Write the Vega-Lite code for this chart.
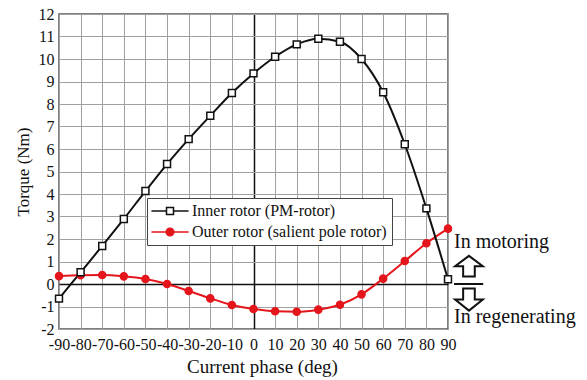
{
  "$schema": "https://vega.github.io/schema/vega-lite/v6.json",
  "width": 389,
  "height": 315,
  "autosize": {"type": "none"},
  "padding": {"left": 59, "top": 14, "right": 139, "bottom": 51},
  "background": "white",
  "config": {
    "font": "Liberation Serif",
    "view": {"stroke": "#555", "strokeWidth": 1.5},
    "axis": {
      "labelFont": "Liberation Serif",
      "labelFontSize": 16,
      "labelColor": "#111",
      "titleFont": "Liberation Serif",
      "titleFontWeight": "normal",
      "titleColor": "#111",
      "tickSize": 0,
      "domain": false,
      "gridOpacity": 1
    },
    "legend": {
      "orient": "none",
      "legendX": 88,
      "legendY": 184,
      "padding": 5,
      "fillColor": "white",
      "strokeColor": "#444",
      "labelFont": "Liberation Serif",
      "labelFontSize": 16,
      "labelColor": "#111",
      "symbolSize": 49,
      "symbolStrokeWidth": 1.5,
      "symbolOpacity": 1,
      "symbolOffset": 10,
      "labelOffset": 14,
      "rowPadding": 5,
      "labelLimit": 400
    }
  },
  "datasets": {
    "curves": [
      {"phase": -90, "torque": -0.65, "series": "Inner rotor (PM-rotor)"},
      {"phase": -80, "torque": 0.52, "series": "Inner rotor (PM-rotor)"},
      {"phase": -70, "torque": 1.69, "series": "Inner rotor (PM-rotor)"},
      {"phase": -60, "torque": 2.89, "series": "Inner rotor (PM-rotor)"},
      {"phase": -50, "torque": 4.13, "series": "Inner rotor (PM-rotor)"},
      {"phase": -40, "torque": 5.33, "series": "Inner rotor (PM-rotor)"},
      {"phase": -30, "torque": 6.44, "series": "Inner rotor (PM-rotor)"},
      {"phase": -20, "torque": 7.48, "series": "Inner rotor (PM-rotor)"},
      {"phase": -10, "torque": 8.49, "series": "Inner rotor (PM-rotor)"},
      {"phase": 0, "torque": 9.36, "series": "Inner rotor (PM-rotor)"},
      {"phase": 10, "torque": 10.1, "series": "Inner rotor (PM-rotor)"},
      {"phase": 20, "torque": 10.65, "series": "Inner rotor (PM-rotor)"},
      {"phase": 30, "torque": 10.9, "series": "Inner rotor (PM-rotor)"},
      {"phase": 40, "torque": 10.77, "series": "Inner rotor (PM-rotor)"},
      {"phase": 50, "torque": 10.0, "series": "Inner rotor (PM-rotor)"},
      {"phase": 60, "torque": 8.52, "series": "Inner rotor (PM-rotor)"},
      {"phase": 70, "torque": 6.21, "series": "Inner rotor (PM-rotor)"},
      {"phase": 80, "torque": 3.36, "series": "Inner rotor (PM-rotor)"},
      {"phase": 90, "torque": 0.21, "series": "Inner rotor (PM-rotor)"},
      {"phase": -90, "torque": 0.35, "series": "Outer rotor (salient pole rotor)"},
      {"phase": -80, "torque": 0.39, "series": "Outer rotor (salient pole rotor)"},
      {"phase": -70, "torque": 0.4, "series": "Outer rotor (salient pole rotor)"},
      {"phase": -60, "torque": 0.34, "series": "Outer rotor (salient pole rotor)"},
      {"phase": -50, "torque": 0.22, "series": "Outer rotor (salient pole rotor)"},
      {"phase": -40, "torque": 0.0, "series": "Outer rotor (salient pole rotor)"},
      {"phase": -30, "torque": -0.31, "series": "Outer rotor (salient pole rotor)"},
      {"phase": -20, "torque": -0.64, "series": "Outer rotor (salient pole rotor)"},
      {"phase": -10, "torque": -0.93, "series": "Outer rotor (salient pole rotor)"},
      {"phase": 0, "torque": -1.11, "series": "Outer rotor (salient pole rotor)"},
      {"phase": 10, "torque": -1.21, "series": "Outer rotor (salient pole rotor)"},
      {"phase": 20, "torque": -1.23, "series": "Outer rotor (salient pole rotor)"},
      {"phase": 30, "torque": -1.14, "series": "Outer rotor (salient pole rotor)"},
      {"phase": 40, "torque": -0.92, "series": "Outer rotor (salient pole rotor)"},
      {"phase": 50, "torque": -0.46, "series": "Outer rotor (salient pole rotor)"},
      {"phase": 60, "torque": 0.24, "series": "Outer rotor (salient pole rotor)"},
      {"phase": 70, "torque": 1.02, "series": "Outer rotor (salient pole rotor)"},
      {"phase": 80, "torque": 1.81, "series": "Outer rotor (salient pole rotor)"},
      {"phase": 90, "torque": 2.46, "series": "Outer rotor (salient pole rotor)"}
    ]
  },
  "encoding": {
    "x": {
      "field": "phase",
      "type": "quantitative",
      "scale": {"domain": [-90, 90], "nice": false, "zero": false},
      "axis": {
        "values": [-90, -80, -70, -60, -50, -40, -30, -20, -10, 0, 10, 20, 30, 40, 50, 60, 70, 80, 90],
        "labelExpr": "'' + datum.value",
        "title": "Current phase (deg)",
        "titleFontSize": 19,
        "titleX": 203,
        "labelPadding": 7,
        "titlePadding": 5,
        "labelOverlap": false,
        "labelFlush": false,
        "labelBound": false,
        "grid": true,
        "gridColor": {"condition": {"test": "datum.value === 0", "value": "#111"}, "value": "#a0a0a0"},
        "gridWidth": {"condition": {"test": "datum.value === 0", "value": 1.5}, "value": 1}
      }
    },
    "y": {
      "field": "torque",
      "type": "quantitative",
      "scale": {"domain": [-2, 12], "nice": false, "zero": false},
      "axis": {
        "values": [-2, -1, 0, 1, 2, 3, 4, 5, 6, 7, 8, 9, 10, 11, 12],
        "labelExpr": "'' + datum.value",
        "title": "Torque (Nm)",
        "titleFontSize": 17,
        "labelPadding": 5,
        "titlePadding": 6,
        "grid": true,
        "gridColor": {"condition": {"test": "datum.value === 0", "value": "#111"}, "value": "#a0a0a0"},
        "gridWidth": {"condition": {"test": "datum.value === 0", "value": 1.5}, "value": 1}
      }
    }
  },
  "layer": [
    {
      "data": {"name": "curves"},
      "transform": [{"filter": "datum.series === 'Outer rotor (salient pole rotor)'"}],
      "mark": {"type": "line", "interpolate": "monotone", "strokeWidth": 2, "color": "#e4161b"},
      "encoding": {}
    },
    {
      "data": {"name": "curves"},
      "transform": [{"filter": "datum.series === 'Inner rotor (PM-rotor)'"}],
      "mark": {"type": "line", "interpolate": "monotone", "strokeWidth": 2, "color": "#111111"},
      "encoding": {}
    },
    {
      "data": {"name": "curves"},
      "transform": [{"filter": "datum.series === 'Outer rotor (salient pole rotor)'"}],
      "mark": {"type": "point", "shape": "circle", "filled": true, "opacity": 1, "size": 50, "fill": "#e4161b", "stroke": "#e4161b", "strokeWidth": 1.5},
      "encoding": {}
    },
    {
      "data": {"name": "curves"},
      "transform": [{"filter": "datum.series === 'Inner rotor (PM-rotor)'"}],
      "mark": {"type": "point", "shape": "square", "filled": true, "opacity": 1, "size": 48, "fill": "#ffffff", "stroke": "#111111", "strokeWidth": 1.5},
      "encoding": {}
    },
    {
      "data": {"name": "curves"},
      "mark": {"type": "point", "filled": true, "opacity": 0, "strokeWidth": 1.5},
      "encoding": {
        "stroke": {
          "field": "series",
          "type": "nominal",
          "scale": {"domain": ["Inner rotor (PM-rotor)", "Outer rotor (salient pole rotor)"], "range": ["#111111", "#e4161b"]},
          "legend": {"title": null, "symbolOpacity": 1}
        },
        "fill": {
          "field": "series",
          "type": "nominal",
          "scale": {"domain": ["Inner rotor (PM-rotor)", "Outer rotor (salient pole rotor)"], "range": ["#ffffff", "#e4161b"]},
          "legend": {"title": null, "symbolOpacity": 1}
        },
        "shape": {
          "field": "series",
          "type": "nominal",
          "scale": {"domain": ["Inner rotor (PM-rotor)", "Outer rotor (salient pole rotor)"], "range": ["M-5.3,0L-1,0M1,0L5.3,0M-1,-1L1,-1L1,1L-1,1Z", "M-5.3,0L5.3,0M-1.1,0A1.1,1.1,0,1,0,1.1,0A1.1,1.1,0,1,0,-1.1,0Z"]},
          "legend": {"title": null, "symbolOpacity": 1}
        }
      }
    },
    {
      "data": {"values": [{"phase": 92.8, "torque": 1.88, "label": "In motoring"}, {"phase": 92.8, "torque": -1.45, "label": "In regenerating"}]},
      "mark": {"type": "text", "align": "left", "baseline": "middle", "fontSize": 20, "font": "Liberation Serif", "color": "#111"},
      "encoding": {"text": {"field": "label"}}
    },
    {
      "data": {"values": [{"phase": 92.8, "phase_end": 106.3, "torque": 0}]},
      "mark": {"type": "rule", "strokeWidth": 2, "color": "#111"},
      "encoding": {"x2": {"field": "phase_end"}}
    },
    {
      "data": {"values": [{"phase": 99.7, "torque": 0.79}]},
      "mark": {"type": "point", "shape": "M0,-0.75L1,0L0.42,0L0.42,0.75L-0.42,0.75L-0.42,0L-1,0Z", "size": 767, "filled": true, "fill": "white", "stroke": "#111", "strokeWidth": 2, "opacity": 1},
      "encoding": {}
    },
    {
      "data": {"values": [{"phase": 99.7, "torque": -0.69}]},
      "mark": {"type": "point", "shape": "M0,0.8L1,0L0.42,0L0.42,-0.8L-0.42,-0.8L-0.42,0L-1,0Z", "size": 767, "filled": true, "fill": "white", "stroke": "#111", "strokeWidth": 2, "opacity": 1},
      "encoding": {}
    }
  ]
}
